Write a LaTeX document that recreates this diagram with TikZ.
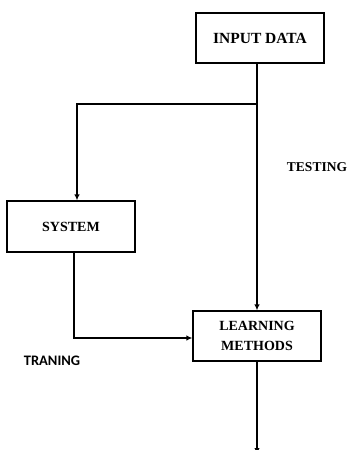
\documentclass[tikz,border=0pt]{standalone}
\usepackage{fontspec}
\setmainfont{Liberation Serif}
\newfontfamily\calib{Carlito}
\usetikzlibrary{arrows.meta}
\begin{document}
\begin{tikzpicture}[x=1pt,y=-1pt,
  box/.style={draw,line width=1.2pt,minimum width=128pt,minimum height=50pt,inner sep=0pt,align=center,font=\fontsize{14}{17}\selectfont\bfseries},
  conn/.style={line width=1.2pt,-{Latex[length=6pt,width=5.5pt]}},
  plain/.style={line width=1.2pt}]
\useasboundingbox (0,0) rectangle (350,450);
\clip (0,0) rectangle (350,450);
\node[box,font=\fontsize{15.5}{18}\selectfont\bfseries] (input) at (260,38) {INPUT DATA};
\node[box,minimum height=51pt] (sys) at (71,226.5) {SYSTEM};
\node[box,font=\fontsize{14}{20}\selectfont\bfseries] (learn) at (257,336) {LEARNING\\METHODS};
\node[font=\fontsize{13.5}{16}\selectfont\bfseries] (test) at (317,167) {TESTING};
\node[font=\calib\fontsize{14.5}{17}\selectfont\bfseries] (train) at (52,361) {TRANING};
\coordinate (j) at (257,104);
\coordinate (k) at (77,104);
\coordinate (m) at (74,338);
\coordinate (e) at (257,454);
\draw[plain] (input.south -| j) -- (j);
\draw[conn] (j) -- (learn.north);
\draw[conn] (j) -- (k) -- (k |- sys.north);
\draw[conn] (sys.south -| m) -- (m) -- (m -| learn.west);
\draw[conn] (learn.south) -- (e);
\end{tikzpicture}
\end{document}
